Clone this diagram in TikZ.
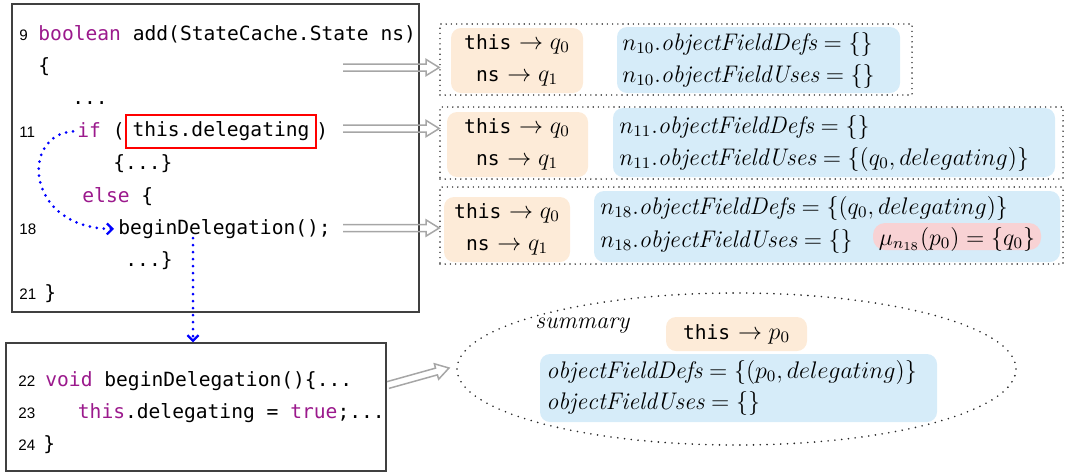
\documentclass[tikz,border=0pt]{standalone}
\usepackage{fontspec}
\setmonofont{DejaVu Sans Mono}
\newfontfamily\numfont{Liberation Sans}
\usetikzlibrary{calc,fit,arrows.meta,shapes.geometric}

\definecolor{kwcol}{RGB}{155,25,140}
\definecolor{envfill}{RGB}{253,235,216}
\definecolor{factfill}{RGB}{214,236,249}
\definecolor{aliasfill}{RGB}{248,210,212}
\definecolor{flowblue}{RGB}{0,0,255}

\newcommand\kw[1]{\textcolor{kwcol}{#1}}
\newcommand\codesize{\fontsize{9.8pt}{12pt}\selectfont}
\newcommand\mathsize{\fontsize{12pt}{14pt}\selectfont}

% open double-shafted arrow from #1 to #2
\newcommand\hollowarrow[2]{%
  \coordinate (hb) at ($(#2)!6.5pt!(#1)$);
  \draw[hollow] ($(#1)!1.75pt!90:(#2)$) -- ($(hb)!1.75pt!90:(#2)$)
    -- ($(hb)!4pt!90:(#2)$) -- (#2) -- ($(hb)!4pt!-90:(#2)$)
    -- ($(hb)!1.75pt!-90:(#2)$) -- ($(#1)!1.75pt!-90:(#2)$);
}

\tikzset{
  code/.style={inner sep=0pt, anchor=base west, font=\ttfamily\codesize},
  lineno/.style={inner sep=0pt, anchor=base west, font=\numfont\fontsize{7.6pt}{9pt}\selectfont},
  codebox/.style={draw=black!75, line width=0.65pt, inner sep=0pt},
  dotbox/.style={draw=black!85, line width=0.8pt, line cap=round, dash pattern=on 0pt off 2.6pt, inner sep=0pt},
  envbox/.style={fill=envfill, rounded corners=5pt, inner sep=0pt},
  factbox/.style={fill=factfill, rounded corners=5pt, inner sep=0pt},
  aliasbox/.style={fill=aliasfill, rounded corners=6pt, inner sep=0pt},
  fact/.style={inner sep=0pt, anchor=base west, font=\mathsize},
  envtxt/.style={inner sep=0pt, anchor=base, font=\mathsize},
  flow/.style={draw=flowblue, line width=1.5pt, line cap=round, dash pattern=on 0pt off 3.5pt,
    -{Straight Barb[length=2.8pt,width=5.5pt,line width=1.1pt]}},
  hollow/.style={draw=black!35, line width=0.75pt, line join=miter},
}

\begin{document}
\begin{tikzpicture}[x=0.5pt,y=-0.5pt]
\useasboundingbox (0,0) rectangle (1069,473);

% ---- caller: add(...)
\node[codebox, fit={(12,4) (419,312)}] (caller) {};
\node[lineno] at (19,40) {9};
\node[code] at (38,40) {\kw{boolean} add(StateCache.State ns)};
\node[code] at (38,72.4) {\{};
\node[code] at (72,104.8) {...};
\node[lineno] at (19,137.2) {11};
\node[code] (ifkw) at (77,137.2) {\kw{if} (};
\node[draw=red, line width=0.7pt, inner xsep=3.2pt, inner ysep=0pt, minimum height=16.5pt,
      font=\ttfamily\codesize] (cond) at (221,131.5) {this.delegating};
\node[code] at (316,137.2) {)};
\node[code] at (113,169.6) {\{...\}};
\node[code] at (82,202) {\kw{else} \{};
\node[lineno] at (19,234.4) {18};
\node[code] (call) at (118,234.4) {beginDelegation();};
\node[code] at (125,266.8) {...\}};
\node[lineno] at (19,299.2) {21};
\node[code] at (44,299.2) {\}};

% ---- callee: beginDelegation()
\node[codebox, fit={(6,343) (386,471)}] (callee) {};
\node[lineno] at (18,386) {22};
\node[code] at (45,386) {\kw{void} beginDelegation()\{...};
\node[lineno] at (18,418.4) {23};
\node[code] at (77.5,418.4) {\kw{this}.delegating = \kw{true};...};
\node[lineno] at (18,450.8) {24};
\node[code] at (43,450.8) {\}};

% ---- control flow
\draw[flow, shorten <=2pt, shorten >=2pt] (ifkw.west) .. controls (20,135) and (25,228) .. (call.west);
\coordinate (drop) at (193,238);
\draw[flow] (drop) -- (drop |- callee.north);

% ---- state after line 10
\node[dotbox, fit={(440,24) (912,95)}] (st1) {};
\node[envbox, fit={(451,28) (583,93)}] (env1) {};
\node[factbox, fit={(617,27) (900,93)}] (fac1) {};
\node[envtxt] at (517,49) {\texttt{\codesize this} $\rightarrow q_0$};
\node[envtxt] at (517,81) {\texttt{\codesize ns} $\rightarrow q_1$};
\node[fact] at (622,50) {$n_{10}.\mathit{objectFieldDefs} = \{\}$};
\node[fact] at (622,82) {$n_{10}.\mathit{objectFieldUses} = \{\}$};

% ---- state after line 11
\node[dotbox, fit={(440,107) (1063,179)}] (st2) {};
\node[envbox, fit={(447,112) (588,177)}] (env2) {};
\node[factbox, fit={(613,108) (1055,177)}] (fac2) {};
\node[envtxt] at (517,133) {\texttt{\codesize this} $\rightarrow q_0$};
\node[envtxt] at (517,165) {\texttt{\codesize ns} $\rightarrow q_1$};
\node[fact] at (619,133) {$n_{11}.\mathit{objectFieldDefs} = \{\}$};
\node[fact] at (619,165) {$n_{11}.\mathit{objectFieldUses} = \{(q_0, delegating)\}$};

% ---- state after line 18
\node[dotbox, fit={(440,187) (1063,264)}] (st3) {};
\node[envbox, fit={(444,197) (570,262)}] (env3) {};
\node[factbox, fit={(594,191) (1060,262)}] (fac3) {};
\node[aliasbox, fit={(873,223) (1041,250)}] (alias) {};
\node[envtxt] at (507,218) {\texttt{\codesize this} $\rightarrow q_0$};
\node[envtxt] at (507,250) {\texttt{\codesize ns} $\rightarrow q_1$};
\node[fact] at (600,214) {$n_{18}.\mathit{objectFieldDefs} = \{(q_0, delegating)\}$};
\node[fact] at (600,247) {$n_{18}.\mathit{objectFieldUses} = \{\}$};
\node[envtxt] at (957,245) {$\mu_{n_{18}}(p_0) = \{q_0\}$};

% ---- method summary
\node[ellipse, dotbox, line width=0.9pt, dash pattern=on 0pt off 3.4pt,
      minimum width=279.5pt, minimum height=76pt] (summ) at (736.5,369) {};
\node[envbox, fit={(666,317) (807,351)}] (env4) {};
\node[factbox, fit={(540,354) (937,422)}] (fac4) {};
\node[fact] at (535,328) {$\mathit{summary}$};
\node[envtxt] at (736.5,339) {\texttt{\codesize this} $\rightarrow p_0$};
\node[fact] at (546,378) {$\mathit{objectFieldDefs} = \{(p_0, delegating)\}$};
\node[fact] at (546,409) {$\mathit{objectFieldUses} = \{\}$};

% ---- code-to-state arrows
\coordinate (s1) at (343,67.5);  \coordinate (e1) at (s1 -| st1.west);
\coordinate (s2) at (343,128.5); \coordinate (e2) at (s2 -| st2.west);
\coordinate (s3) at (343,228);   \coordinate (e3) at (s3 -| st3.west);
\coordinate (s4) at (388,385);   \coordinate (e4) at (449,368);
\hollowarrow{s1}{e1}
\hollowarrow{s2}{e2}
\hollowarrow{s3}{e3}
\hollowarrow{s4}{e4}
\end{tikzpicture}
\end{document}
